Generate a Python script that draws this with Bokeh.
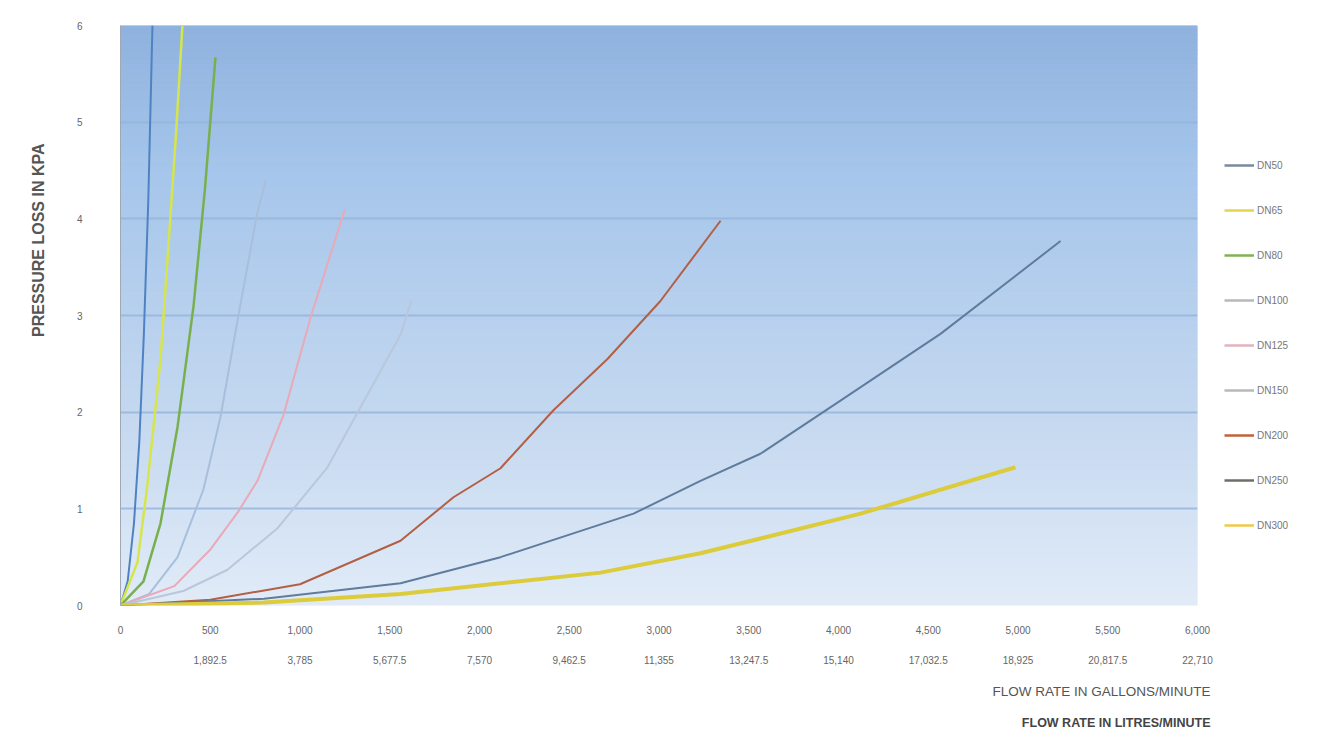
import numpy as np
from bokeh.plotting import figure
from bokeh.models import (Range1d, LinearAxis, FixedTicker, NumeralTickFormatter,
                          Legend, LegendItem, Title)
from bokeh.embed import file_html
from bokeh.resources import INLINE

# ---------------- data ----------------
series_names = ["DN50", "DN65", "DN80", "DN100", "DN125", "DN150", "DN200", "DN250", "DN300"]

dn50_q = [0, 40, 75, 105, 130, 155, 178]
dn50_p = [0, 0.25, 0.85, 1.7, 2.8, 4.2, 6.0]

dn65_q = [0, 95, 150, 223, 267, 310, 345]
dn65_p = [0, 0.45, 1.25, 2.55, 3.72, 4.9, 6.0]

dn80_q = [0, 128, 223, 318, 407, 470, 529]
dn80_p = [0, 0.25, 0.85, 1.85, 3.1, 4.3, 5.67]

dn100_q = [0, 160, 318, 462, 557, 652, 763, 810]
dn100_p = [0, 0.12, 0.5, 1.2, 1.95, 2.95, 4.07, 4.4]

dn125_q = [0, 300, 501, 652, 763, 908, 1059, 1250]
dn125_p = [0, 0.2, 0.58, 0.96, 1.29, 1.97, 2.98, 4.1]

dn150_q = [0, 350, 596, 875, 1153, 1337, 1560, 1620]
dn150_p = [0, 0.15, 0.37, 0.8, 1.43, 2.05, 2.8, 3.15]

dn200_q = [0, 500, 1000, 1560, 1855, 2117, 2412, 2713, 3008, 3343]
dn200_p = [0, 0.06, 0.22, 0.67, 1.12, 1.42, 2.02, 2.55, 3.15, 3.98]

dn250_q = [0, 800, 1560, 2117, 2858, 3231, 3565, 4011, 4568, 5237]
dn250_p = [0, 0.07, 0.23, 0.5, 0.95, 1.29, 1.57, 2.12, 2.81, 3.77]

dn300_q = [0, 800, 1560, 2674, 3231, 4123, 4986]
dn300_p = [0, 0.03, 0.12, 0.34, 0.54, 0.95, 1.43]

gallon_ticks = [0, 500, 1000, 1500, 2000, 2500, 3000, 3500, 4000, 4500, 5000, 5500, 6000]
litre_ticks = [1892.5, 3785, 5677.5, 7570, 9462.5, 11355, 13247.5, 15140,
               17032.5, 18925, 20817.5, 22710]
litre_labels = ["1,892.5", "3,785", "5,677.5", "7,570", "9,462.5", "11,355", "13,247.5",
                "15,140", "17,032.5", "18,925", "20,817.5", "22,710"]
y_ticks = [0, 1, 2, 3, 4, 5, 6]

# ---------------- styles ----------------
colors = ["#4f82c3", "#d6e64a", "#78b04c", "#a8bfdc", "#e8a9b8", "#b9c7db",
          "#b35f45", "#5f7c9e", "#dccb3a"]
widths = [2, 2.5, 2.5, 2, 2, 2, 2, 2, 4]
legend_colors = ["#7a8a9c", "#e6d44a", "#7fb350", "#b8b8b8", "#e2b3bc", "#b9b9b9",
                 "#c0623a", "#6a7068", "#f0c84a"]

FONT = "Liberation Sans"

p = figure(frame_width=1077, frame_height=580,
           min_border_left=120, min_border_right=111, min_border_top=25, min_border_bottom=110,
           x_range=Range1d(0, 6000), y_range=Range1d(0, 6),
           output_backend="svg", toolbar_location=None,
           background_fill_color="white", border_fill_color="white")
p.outline_line_color = None

# background gradient bands
stops_y = [0, 2, 4.5, 6]
stops_c = [(226, 236, 248), (196, 216, 240), (166, 198, 235), (143, 178, 222)]
nb = 120
edges = np.linspace(0, 6, nb + 1)
mids = (edges[:-1] + edges[1:]) / 2
cols = []
for m in mids:
    r = np.interp(m, stops_y, [c[0] for c in stops_c])
    g = np.interp(m, stops_y, [c[1] for c in stops_c])
    b = np.interp(m, stops_y, [c[2] for c in stops_c])
    cols.append("#%02x%02x%02x" % (int(r), int(g), int(b)))
p.quad(left=0, right=6000, bottom=edges[:-1], top=edges[1:], fill_color=cols,
       line_color=cols, line_width=1, level="underlay")

p.xgrid.visible = False
p.ygrid.grid_line_color = "#93b3dc"
p.ygrid.grid_line_width = 2
p.ygrid.grid_line_alpha = 0.8
p.ygrid.ticker = FixedTicker(ticks=y_ticks)

qs = [dn50_q, dn65_q, dn80_q, dn100_q, dn125_q, dn150_q, dn200_q, dn250_q, dn300_q]
ps = [dn50_p, dn65_p, dn80_p, dn100_p, dn125_p, dn150_p, dn200_p, dn250_p, dn300_p]

items = []
for name, q, pr, c, w, lc in zip(series_names, qs, ps, colors, widths, legend_colors):
    p.line(q, pr, line_color=c, line_width=w)
    proxy = p.line([-100, -90], [-1, -1], line_color=lc, line_width=2.5)
    items.append(LegendItem(label=name, renderers=[proxy]))

legend = Legend(items=items, location=(27, 70), orientation="vertical",
                glyph_width=30, glyph_height=20, label_height=20, spacing=25,
                padding=8, margin=0, border_line_color=None, background_fill_alpha=0,
                label_text_font=FONT, label_text_font_size="10px", label_text_color="#777777",
                label_standoff=3)
p.add_layout(legend, "right")

# axes
p.yaxis.ticker = FixedTicker(ticks=y_ticks)
p.yaxis.axis_line_color = "#a0a8b4"
p.yaxis.major_tick_line_color = None
p.yaxis.minor_tick_line_color = None
p.yaxis.major_label_standoff = 32
p.yaxis.major_label_text_font = FONT
p.yaxis.major_label_text_font_size = "10px"
p.yaxis.major_label_text_color = "#666666"

p.xaxis.ticker = FixedTicker(ticks=gallon_ticks)
p.xaxis.formatter = NumeralTickFormatter(format="0,0")
p.xaxis.axis_line_color = None
p.xaxis.major_tick_line_color = None
p.xaxis.minor_tick_line_color = None
p.xaxis.major_label_standoff = 14
p.xaxis.major_label_text_font = FONT
p.xaxis.major_label_text_font_size = "10px"
p.xaxis.major_label_text_color = "#666666"

p.extra_x_ranges = {"litres": Range1d(0, 22710)}
lax = LinearAxis(x_range_name="litres", ticker=FixedTicker(ticks=litre_ticks),
                 major_label_overrides={t: s for t, s in zip(litre_ticks, litre_labels)})
lax.axis_line_color = None
lax.major_tick_line_color = None
lax.minor_tick_line_color = None
lax.major_label_standoff = 13
lax.major_label_text_font = FONT
lax.major_label_text_font_size = "10px"
lax.major_label_text_color = "#666666"
p.add_layout(lax, "below")

# titles
p.add_layout(Title(text="PRESSURE LOSS IN KPA", align="right", offset=118, standoff=53,
                   text_font=FONT, text_font_size="16px", text_font_style="bold",
                   text_color="#555555"), "left")
p.add_layout(Title(text="FLOW RATE IN GALLONS/MINUTE", align="right", offset=-13, standoff=30,
                   text_font=FONT, text_font_size="13.5px", text_font_style="normal",
                   text_color="#555555"), "below")
p.add_layout(Title(text="FLOW RATE IN LITRES/MINUTE", align="right", offset=-13, standoff=0,
                   text_font=FONT, text_font_size="12.5px", text_font_style="bold",
                   text_color="#444444"), "below")

open("out.html", "w").write(file_html(p, INLINE))
